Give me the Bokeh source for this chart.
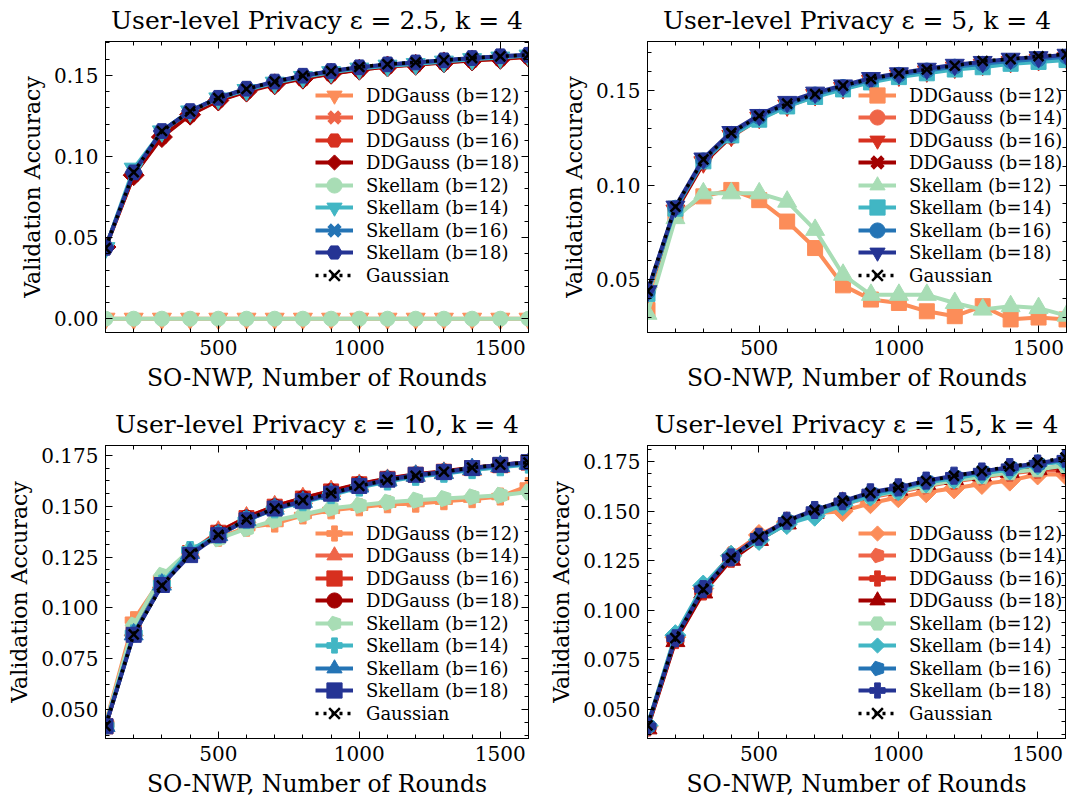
import math
import numpy as np
from bokeh.plotting import figure
from bokeh.layouts import column, row
from bokeh.models import (Range1d, FixedTicker, LinearAxis, Legend, LegendItem,
                          PrintfTickFormatter, CustomLabelingPolicy)
from bokeh.embed import file_html
from bokeh.resources import INLINE

# ---------------- data ----------------
ROUNDS = [100, 200, 300, 400, 500, 600, 700, 800, 900, 1000, 1100, 1200, 1300, 1400, 1500, 1600]

LABELS = ["DDGauss (b=12)", "DDGauss (b=14)", "DDGauss (b=16)", "DDGauss (b=18)",
          "Skellam (b=12)", "Skellam (b=14)", "Skellam (b=16)", "Skellam (b=18)", "Gaussian"]
COLORS = ["#fc8d59", "#ef6548", "#d7301f", "#a30000",
          "#a8ddb5", "#41b6c4", "#2474b5", "#253494", "black"]

TITLES = ["User-level Privacy ε = 2.5, k = 4", "User-level Privacy ε = 5, k = 4",
          "User-level Privacy ε = 10, k = 4", "User-level Privacy ε = 15, k = 4"]

# epsilon = 2.5
E25_DDG12 = [0.0] * 16
E25_DDG14 = [0.0435, 0.0885, 0.1130, 0.1265, 0.1345, 0.1405, 0.1450, 0.1485, 0.1515, 0.1535, 0.1555, 0.1570, 0.1580, 0.1595, 0.1600, 0.1615]
E25_DDG16 = [0.0440, 0.0890, 0.1125, 0.1260, 0.1350, 0.1405, 0.1448, 0.1482, 0.1512, 0.1538, 0.1558, 0.1568, 0.1582, 0.1596, 0.1605, 0.1618]
E25_DDG18 = [0.0442, 0.0885, 0.1120, 0.1258, 0.1345, 0.1400, 0.1445, 0.1480, 0.1510, 0.1535, 0.1555, 0.1565, 0.1580, 0.1592, 0.1602, 0.1615]
E25_SK12 = [0.0] * 16
E25_SK14 = [0.0435, 0.0925, 0.1155, 0.1278, 0.1358, 0.1410, 0.1455, 0.1490, 0.1520, 0.1542, 0.1560, 0.1570, 0.1585, 0.1600, 0.1610, 0.1622]
E25_SK16 = [0.0436, 0.0905, 0.1158, 0.1282, 0.1362, 0.1415, 0.1460, 0.1496, 0.1525, 0.1548, 0.1566, 0.1578, 0.1592, 0.1606, 0.1616, 0.1625]
E25_SK18 = [0.0437, 0.0902, 0.1157, 0.1280, 0.1362, 0.1418, 0.1462, 0.1498, 0.1527, 0.1550, 0.1568, 0.1580, 0.1593, 0.1607, 0.1618, 0.1627]
E25_GAUSS = [0.0435, 0.0903, 0.1157, 0.1278, 0.1360, 0.1416, 0.1462, 0.1498, 0.1527, 0.1552, 0.1569, 0.1580, 0.1594, 0.1607, 0.1617, 0.1627]

# epsilon = 5
E5_DDG12 = [0.0340, 0.0840, 0.0940, 0.0974, 0.0920, 0.0807, 0.0667, 0.0470, 0.0395, 0.0377, 0.0333, 0.0307, 0.0360, 0.0290, 0.0300, 0.0290]
E5_DDG14 = [0.0435, 0.0870, 0.1125, 0.1255, 0.1350, 0.1415, 0.1470, 0.1510, 0.1545, 0.1575, 0.1595, 0.1615, 0.1630, 0.1645, 0.1655, 0.1665]
E5_DDG16 = [0.0432, 0.0865, 0.1120, 0.1260, 0.1355, 0.1420, 0.1475, 0.1512, 0.1550, 0.1578, 0.1600, 0.1620, 0.1635, 0.1650, 0.1660, 0.1670]
E5_DDG18 = [0.0430, 0.0860, 0.1115, 0.1258, 0.1352, 0.1418, 0.1472, 0.1510, 0.1548, 0.1575, 0.1598, 0.1618, 0.1632, 0.1648, 0.1658, 0.1668]
E5_SK12 = [0.0320, 0.0825, 0.0956, 0.0956, 0.0956, 0.0912, 0.0763, 0.0526, 0.0420, 0.0420, 0.0420, 0.0377, 0.0342, 0.0360, 0.0350, 0.0310]
E5_SK14 = [0.0425, 0.0875, 0.1125, 0.1262, 0.1345, 0.1415, 0.1465, 0.1505, 0.1542, 0.1570, 0.1590, 0.1610, 0.1622, 0.1640, 0.1650, 0.1660]
E5_SK16 = [0.0435, 0.0880, 0.1130, 0.1270, 0.1360, 0.1425, 0.1478, 0.1518, 0.1555, 0.1582, 0.1605, 0.1625, 0.1640, 0.1655, 0.1665, 0.1678]
E5_SK18 = [0.0439, 0.0886, 0.1140, 0.1280, 0.1370, 0.1439, 0.1488, 0.1526, 0.1565, 0.1590, 0.1614, 0.1635, 0.1650, 0.1667, 0.1675, 0.1688]
E5_GAUSS = [0.0440, 0.0885, 0.1135, 0.1275, 0.1365, 0.1430, 0.1480, 0.1525, 0.1560, 0.1590, 0.1610, 0.1630, 0.1655, 0.1665, 0.1680, 0.1690]

# epsilon = 10
E10_DDG12 = [0.0430, 0.0940, 0.1145, 0.1280, 0.1345, 0.1395, 0.1415, 0.1455, 0.1480, 0.1495, 0.1510, 0.1513, 0.1525, 0.1535, 0.1548, 0.1600]
E10_DDG14 = [0.0420, 0.0890, 0.1125, 0.1275, 0.1375, 0.1445, 0.1500, 0.1540, 0.1575, 0.1605, 0.1630, 0.1650, 0.1665, 0.1680, 0.1695, 0.1710]
E10_DDG16 = [0.0418, 0.0880, 0.1120, 0.1270, 0.1370, 0.1442, 0.1498, 0.1538, 0.1573, 0.1608, 0.1635, 0.1655, 0.1670, 0.1688, 0.1702, 0.1715]
E10_DDG18 = [0.0418, 0.0875, 0.1115, 0.1268, 0.1372, 0.1445, 0.1500, 0.1540, 0.1575, 0.1610, 0.1637, 0.1658, 0.1672, 0.1690, 0.1703, 0.1718]
E10_SK12 = [0.0425, 0.0915, 0.1160, 0.1285, 0.1340, 0.1390, 0.1430, 0.1460, 0.1490, 0.1505, 0.1520, 0.1530, 0.1538, 0.1546, 0.1554, 0.1570]
E10_SK14 = [0.0422, 0.0875, 0.1120, 0.1285, 0.1360, 0.1432, 0.1485, 0.1520, 0.1555, 0.1592, 0.1622, 0.1645, 0.1660, 0.1678, 0.1692, 0.1705]
E10_SK16 = [0.0420, 0.0870, 0.1115, 0.1270, 0.1358, 0.1432, 0.1488, 0.1522, 0.1560, 0.1597, 0.1627, 0.1650, 0.1663, 0.1683, 0.1698, 0.1710]
E10_SK18 = [0.0418, 0.0868, 0.1113, 0.1260, 0.1358, 0.1431, 0.1489, 0.1525, 0.1562, 0.1600, 0.1631, 0.1655, 0.1668, 0.1688, 0.1704, 0.1717]
E10_GAUSS = [0.0420, 0.0870, 0.1110, 0.1265, 0.1360, 0.1435, 0.1490, 0.1530, 0.1565, 0.1600, 0.1630, 0.1650, 0.1670, 0.1690, 0.1705, 0.1715]

# epsilon = 15
E15_DDG12 = [0.0415, 0.0865, 0.1110, 0.1275, 0.1380, 0.1445, 0.1490, 0.1500, 0.1540, 0.1570, 0.1595, 0.1615, 0.1637, 0.1654, 0.1685, 0.1685]
E15_DDG14 = [0.0415, 0.0870, 0.1115, 0.1280, 0.1375, 0.1450, 0.1497, 0.1535, 0.1570, 0.1595, 0.1625, 0.1650, 0.1670, 0.1690, 0.1705, 0.1705]
E15_DDG16 = [0.0410, 0.0850, 0.1095, 0.1260, 0.1360, 0.1440, 0.1495, 0.1545, 0.1585, 0.1605, 0.1635, 0.1655, 0.1680, 0.1695, 0.1710, 0.1720]
E15_DDG18 = [0.0405, 0.0845, 0.1090, 0.1255, 0.1355, 0.1438, 0.1492, 0.1542, 0.1582, 0.1608, 0.1638, 0.1662, 0.1680, 0.1698, 0.1712, 0.1725]
E15_SK12 = [0.0418, 0.0868, 0.1115, 0.1270, 0.1365, 0.1448, 0.1495, 0.1535, 0.1575, 0.1600, 0.1630, 0.1655, 0.1675, 0.1695, 0.1710, 0.1730]
E15_SK14 = [0.0420, 0.0875, 0.1125, 0.1275, 0.1355, 0.1435, 0.1477, 0.1530, 0.1578, 0.1605, 0.1645, 0.1665, 0.1690, 0.1710, 0.1735, 0.1750]
E15_SK16 = [0.0415, 0.0860, 0.1110, 0.1268, 0.1368, 0.1450, 0.1503, 0.1548, 0.1590, 0.1615, 0.1650, 0.1675, 0.1698, 0.1720, 0.1738, 0.1760]
E15_SK18 = [0.0416, 0.0859, 0.1107, 0.1267, 0.1371, 0.1452, 0.1506, 0.1550, 0.1595, 0.1620, 0.1654, 0.1679, 0.1700, 0.1722, 0.1740, 0.1765]
E15_GAUSS = [0.0420, 0.0860, 0.1105, 0.1265, 0.1370, 0.1450, 0.1505, 0.1552, 0.1592, 0.1620, 0.1652, 0.1678, 0.1702, 0.1725, 0.1745, 0.1770]

MARKERS_E25 = ["v", "X", "h", "D", "o", "v", "X", "h"]
MARKERS_E5 = ["s", "o", "v", "X", "^", "s", "o", "v"]
MARKERS_E10 = ["P", "^", "s", "o", "p", "P", "^", "s"]
MARKERS_E15 = ["D", "p", "P", "^", "h", "D", "p", "P"]

X_TICKS = [500, 1000, 1500]
Y_TICKS_TOP = [0.0, 0.05, 0.10, 0.15]
Y_TICKS_TOP_RIGHT = [0.05, 0.10, 0.15]
Y_TICKS_BOTTOM = [0.050, 0.075, 0.100, 0.125, 0.150, 0.175]

FONT = "DejaVu Serif"


def ngon_marker(p, xs, ys, color, n, radius, angle):
    try:
        return p.ngon(xs, ys, radius=radius, radius_units="screen", n=n, angle=angle,
                      fill_color=color, line_color=color, line_width=1)
    except Exception:
        return p.scatter(xs, ys, marker="hex", size=2 * radius, fill_color=color,
                         line_color=color)


def add_marker(p, m, xs, ys, color):
    common = dict(fill_color=color, line_color=color, line_width=1)
    if m == "o":
        return p.scatter(xs, ys, marker="circle", size=15, **common)
    if m == "v":
        return p.scatter(xs, ys, marker="inverted_triangle", size=19, **common)
    if m == "^":
        return p.scatter(xs, ys, marker="triangle", size=19, **common)
    if m == "s":
        return p.scatter(xs, ys, marker="square", size=15, **common)
    if m == "D":
        return ngon_marker(p, xs, ys, color, 4, 10.5, math.pi / 2)
    if m == "P":
        return p.scatter(xs, ys, marker="plus", size=17, **common)
    if m == "X":
        return p.scatter(xs, ys, marker="x", size=13, line_color=color, line_width=5)
    if m == "h":
        return ngon_marker(p, xs, ys, color, 6, 8.5, math.pi / 2)
    if m == "p":
        return ngon_marker(p, xs, ys, color, 5, 8.5, math.pi / 2)
    return p.scatter(xs, ys, marker="circle", size=15, **common)


HIDE_LABELS = "for (const i of indices) indices.unset(i)"


def style_axis(ax, labels=True, label_size="22px"):
    ax.axis_line_color = "black"
    ax.axis_line_width = 1
    ax.major_tick_in = 7
    ax.major_tick_out = 0
    ax.minor_tick_in = 4
    ax.minor_tick_out = 0
    ax.major_tick_line_color = "black"
    ax.minor_tick_line_color = "black"
    if labels:
        ax.major_label_text_font = FONT
        ax.major_label_text_font_size = "20px"
        ax.major_label_text_color = "black"
        ax.major_label_standoff = 7
        ax.axis_label_text_font = FONT
        ax.axis_label_text_font_size = label_size
        ax.axis_label_text_font_style = "normal"
        ax.axis_label_text_color = "black"
        ax.axis_label_standoff = 6
    else:
        ax.major_label_text_font_size = "1px"
        ax.major_label_standoff = 0
        ax.major_label_policy = CustomLabelingPolicy(code=HIDE_LABELS)
        ax.axis_label = None


def make_legend(items, x, y):
    lg = Legend(items=items, location=(x, y))
    lg.label_text_font = FONT
    lg.label_text_font_size = "18px"
    lg.label_text_color = "black"
    lg.glyph_width = 38
    lg.glyph_height = 38
    lg.label_height = 20
    lg.spacing = 7
    lg.label_standoff = 13
    lg.padding = 0
    lg.margin = 0
    lg.border_line_color = None
    lg.background_fill_alpha = 0
    return lg


def make_panel(title, ys, markers, yr, yticks, yminor, fmt, width, height,
               bl, br, bt, bb, leg_x, leg_y1, leg_y2):
    p = figure(width=width, height=height, output_backend="svg", toolbar_location=None,
               x_range=Range1d(100, 1600), y_range=Range1d(*yr),
               min_border_left=bl, min_border_right=br, min_border_top=bt,
               min_border_bottom=bb, title=title)
    p.xgrid.visible = False
    p.ygrid.visible = False
    p.outline_line_color = "black"
    p.title.text_font = FONT
    p.title.text_font_size = "25px"
    p.title.text_font_style = "normal"
    p.title.text_color = "black"
    p.title.align = "center"
    p.title.standoff = 6

    xt = FixedTicker(ticks=X_TICKS, minor_ticks=list(range(100, 1700, 100)))
    yt = FixedTicker(ticks=yticks, minor_ticks=yminor)

    p.xaxis.ticker = xt
    p.yaxis.ticker = yt
    p.xaxis.formatter = PrintfTickFormatter(format="%d")
    p.yaxis.formatter = PrintfTickFormatter(format=fmt)
    p.xaxis.axis_label = "SO-NWP, Number of Rounds"
    p.yaxis.axis_label = "Validation Accuracy"
    style_axis(p.xaxis[0], label_size="23.5px")
    style_axis(p.yaxis[0], label_size="22px")

    top = LinearAxis(ticker=xt)
    right = LinearAxis(ticker=yt)
    style_axis(top, labels=False)
    style_axis(right, labels=False)
    p.add_layout(top, "above")
    p.add_layout(right, "right")

    items = []
    for i in range(9):
        if i < 8:
            lr = p.line(ROUNDS, ys[i], line_color=COLORS[i], line_width=4)
            sr = add_marker(p, markers[i], ROUNDS, ys[i], COLORS[i])
        else:
            lr = p.line(ROUNDS, ys[i], line_color="black", line_width=3.5, line_dash="3 5")
            sr = p.scatter(ROUNDS, ys[i], marker="x", size=14, line_color="black",
                           line_width=2.5)
        items.append(LegendItem(label=LABELS[i], renderers=[lr, sr]))

    # two interleaved legends give matplotlib-like tight rows with large handles
    p.add_layout(make_legend(items[0::2], leg_x, leg_y1), "center")
    p.add_layout(make_legend(items[1::2], leg_x, leg_y2), "center")
    return p


minor_top = [round(v, 4) for v in np.arange(0.0, 0.1751, 0.01)]
minor_bottom = [round(v, 5) for v in np.arange(0.0375, 0.185, 0.00625)]

p1 = make_panel(TITLES[0],
                [E25_DDG12, E25_DDG14, E25_DDG16, E25_DDG18, E25_SK12, E25_SK14, E25_SK16, E25_SK18, E25_GAUSS],
                MARKERS_E25, (-0.0085, 0.1709), Y_TICKS_TOP, minor_top, "%.2f",
                535, 400, 105, 7, 40, 68, 210, 38, 61)
p2 = make_panel(TITLES[1],
                [E5_DDG12, E5_DDG14, E5_DDG16, E5_DDG18, E5_SK12, E5_SK14, E5_SK16, E5_SK18, E5_GAUSS],
                MARKERS_E5, (0.0221, 0.1758), Y_TICKS_TOP_RIGHT, minor_top, "%.2f",
                536, 400, 112, 2, 40, 68, 211, 38, 61)
p3 = make_panel(TITLES[2],
                [E10_DDG12, E10_DDG14, E10_DDG16, E10_DDG18, E10_SK12, E10_SK14, E10_SK16, E10_SK18, E10_GAUSS],
                MARKERS_E10, (0.0358, 0.1799), Y_TICKS_BOTTOM, minor_bottom, "%.3f",
                535, 401, 105, 7, 45, 63, 210, 6, 29)
p4 = make_panel(TITLES[3],
                [E15_DDG12, E15_DDG14, E15_DDG16, E15_DDG18, E15_SK12, E15_SK14, E15_SK16, E15_SK18, E15_GAUSS],
                MARKERS_E15, (0.0354, 0.1831), Y_TICKS_BOTTOM, minor_bottom, "%.3f",
                536, 401, 112, 2, 45, 63, 211, 6, 29)

layout = column(row(p1, p2), row(p3, p4))
open("out.html", "w").write(file_html(layout, INLINE, title="plot"))
